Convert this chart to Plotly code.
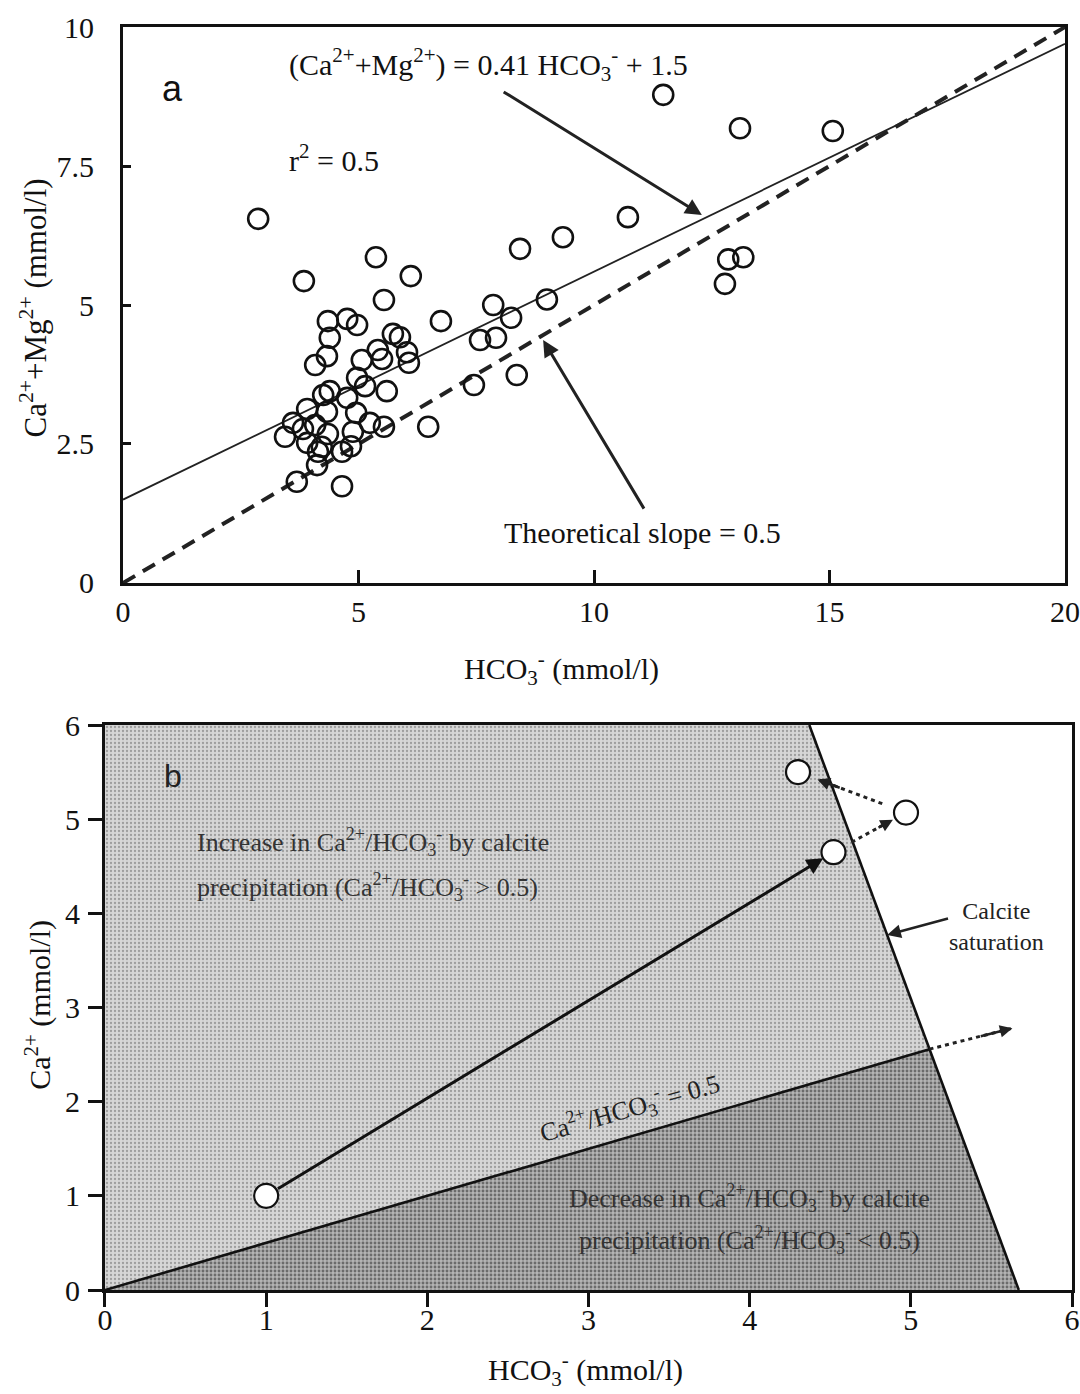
import plotly.graph_objects as go

# ---------------- Panel a: Ca2+ + Mg2+ versus HCO3- ----------------
hco3_a = [2.87, 11.47, 13.10, 15.07, 10.72, 9.34, 8.43, 5.37, 3.84, 6.11,
          5.54, 12.85, 13.17, 12.78, 6.75, 7.86, 9.00, 8.24, 7.58, 7.92,
          8.36, 7.45, 6.48, 4.35, 4.76, 4.97, 4.39, 4.33, 4.08, 5.73,
          5.88, 5.07, 5.41, 5.50, 6.03, 6.07, 5.60, 5.14, 4.97, 4.76,
          4.39, 4.25, 3.91, 4.33, 4.95, 5.24, 5.54, 3.61, 3.44, 3.82,
          4.08, 4.35, 4.88, 3.91, 4.22, 4.14, 4.65, 4.84, 4.12, 3.69,
          4.65]
ca_mg_a = [6.55, 8.78, 8.18, 8.13, 6.58, 6.22, 6.01, 5.86, 5.43, 5.52,
           5.09, 5.82, 5.86, 5.38, 4.71, 5.00, 5.10, 4.77, 4.37, 4.41,
           3.74, 3.56, 2.81, 4.71, 4.75, 4.64, 4.41, 4.08, 3.92, 4.48,
           4.42, 4.01, 4.19, 4.03, 4.15, 3.96, 3.45, 3.54, 3.69, 3.33,
           3.45, 3.38, 3.13, 3.08, 3.06, 2.88, 2.81, 2.88, 2.63, 2.77,
           2.84, 2.68, 2.72, 2.52, 2.45, 2.36, 2.36, 2.46, 2.12, 1.82,
           1.74]
fit_slope, fit_intercept = 0.41, 1.5
theory_slope = 0.5
xa_range = [0, 20]
ya_ticks = [0, 2.5, 5, 7.5, 10]
ya_ticktext = ["0", "2.5", "5", "7.5", "10"]
xa_ticks = [0, 5, 10, 15, 20]

# ---------------- Panel b: Ca2+ versus HCO3- ----------------
calcite_hco3 = [4.37, 5.67]     # calcite saturation boundary
calcite_ca = [6.0, 0.0]
ratio_line = 0.5                # Ca2+/HCO3- = 0.5
start_pt = (1.0, 1.0)
sat_pt = (4.52, 4.65)
over_pt = (4.97, 5.07)
back_pt = (4.30, 5.50)
excess_end = (5.63, 2.78)
xb_ticks = [0, 1, 2, 3, 4, 5, 6]
yb_ticks = [0, 1, 2, 3, 4, 5, 6]

SERIF = "Liberation Serif"
SANS = "Liberation Sans"

fig = go.Figure()

# regression and theoretical lines
fx = [xa_range[0], xa_range[1]]
fig.add_trace(go.Scatter(x=fx, y=[fit_slope * v + fit_intercept for v in fx],
                         mode="lines", line=dict(color="#222", width=1.8),
                         xaxis="x", yaxis="y", hoverinfo="skip"))
fig.add_trace(go.Scatter(x=fx, y=[theory_slope * v for v in fx],
                         mode="lines", line=dict(color="#222", width=4, dash="14px,9px"),
                         xaxis="x", yaxis="y", hoverinfo="skip"))
fig.add_trace(go.Scatter(x=hco3_a, y=ca_mg_a, mode="markers",
                         marker=dict(symbol="circle-open", size=20, color="#111",
                                     line=dict(width=2.6, color="#111")),
                         xaxis="x", yaxis="y", hoverinfo="skip"))

# panel b regions
def calcite_x(ca):
    x0, x1 = calcite_hco3
    y0, y1 = calcite_ca
    return x0 + (ca - y0) * (x1 - x0) / (y1 - y0)

# intersection of calcite boundary and the 0.5 ratio line
x0, x1 = calcite_hco3
y0, y1 = calcite_ca
k = (x1 - x0) / (y1 - y0)
ix = (x0 - k * y0) / (1 - k * ratio_line)
iy = ratio_line * ix

fig.add_trace(go.Scatter(
    x=[0, 0, calcite_hco3[0], ix, 0], y=[0, 6, calcite_ca[0], iy, 0],
    mode="lines", fill="toself", fillcolor="#d2d2d2", line=dict(width=0),
    fillpattern=dict(shape=".", size=4, solidity=0.25, fgcolor="#9c9c9c", bgcolor="#d6d6d6"),
    xaxis="x2", yaxis="y2", hoverinfo="skip"))
fig.add_trace(go.Scatter(
    x=[0, ix, calcite_hco3[1], 0], y=[0, iy, calcite_ca[1], 0],
    mode="lines", fill="toself", fillcolor="#a8a8a8", line=dict(width=0),
    fillpattern=dict(shape=".", size=4, solidity=0.4, fgcolor="#6a6a6a", bgcolor="#b4b4b4"),
    xaxis="x2", yaxis="y2", hoverinfo="skip"))

# boundaries
fig.add_trace(go.Scatter(x=calcite_hco3, y=calcite_ca, mode="lines",
                         line=dict(color="#111", width=2.6),
                         xaxis="x2", yaxis="y2", hoverinfo="skip"))
fig.add_trace(go.Scatter(x=[0, ix], y=[0, iy], mode="lines",
                         line=dict(color="#111", width=2.6),
                         xaxis="x2", yaxis="y2", hoverinfo="skip"))

def shorten(p, q, a, b):
    return (p[0] + a * (q[0] - p[0]), p[1] + a * (q[1] - p[1])), \
           (p[0] + b * (q[0] - p[0]), p[1] + b * (q[1] - p[1]))

# dotted paths
def dotted(p, q):
    fig.add_trace(go.Scatter(x=[p[0], q[0]], y=[p[1], q[1]], mode="lines",
                             line=dict(color="#222", width=3, dash="4px,4px"),
                             xaxis="x2", yaxis="y2", hoverinfo="skip"))

s1, e1 = shorten(sat_pt, over_pt, 0.25, 0.72)
s2, e2 = shorten(over_pt, back_pt, 0.22, 0.80)
dotted(s1, e1)
dotted(s2, e2)
dotted((ix, iy), excess_end)

fig.add_trace(go.Scatter(x=[p[0] for p in (start_pt, sat_pt, over_pt, back_pt)],
                         y=[p[1] for p in (start_pt, sat_pt, over_pt, back_pt)],
                         mode="markers",
                         marker=dict(symbol="circle", size=24, color="white",
                                     line=dict(width=2.2, color="#111")),
                         xaxis="x2", yaxis="y2", hoverinfo="skip"))

ann = []
# panel a text
ann.append(dict(x=3.48, y=9.33, xref="x", yref="y", xanchor="left", yanchor="middle",
                text="(Ca<sup>2+</sup>+Mg<sup>2+</sup>) = 0.41 HCO<sub>3</sub><sup>-</sup> + 1.5",
                showarrow=False, font=dict(family=SERIF, size=30, color="#111")))
ann.append(dict(x=3.48, y=7.64, xref="x", yref="y", xanchor="left", yanchor="middle",
                text="r<sup>2</sup> = 0.5", showarrow=False,
                font=dict(family=SERIF, size=30, color="#111")))
ann.append(dict(x=1.06, y=8.9, xref="x", yref="y", text="a", showarrow=False,
                font=dict(family=SANS, size=36, color="#111")))
ann.append(dict(x=11.04, y=0.9, xref="x", yref="y", text="Theoretical slope = 0.5",
                showarrow=False, font=dict(family=SERIF, size=30, color="#111")))
ann.append(dict(x=12.29, y=6.62, xref="x", yref="y", ax=8.05, ay=8.85, axref="x", ayref="y",
                text="", showarrow=True, arrowhead=2, arrowsize=1.1, arrowwidth=3,
                arrowcolor="#222"))
ann.append(dict(x=8.92, y=4.37, xref="x", yref="y", ax=11.08, ay=1.31, axref="x", ayref="y",
                text="", showarrow=True, arrowhead=2, arrowsize=1.1, arrowwidth=3,
                arrowcolor="#222"))

# panel b text
ann.append(dict(x=0.42, y=5.46, xref="x2", yref="y2", text="b", showarrow=False,
                font=dict(family=SANS, size=32, color="#222")))
region_font = dict(family=SERIF, size=26, color="#333")
ann.append(dict(x=0.56, y=4.76, xref="x2", yref="y2", xanchor="left", yanchor="middle",
                text="Increase in Ca<sup>2+</sup>/HCO<sub>3</sub><sup>-</sup> by calcite",
                showarrow=False, font=region_font))
ann.append(dict(x=0.56, y=4.28, xref="x2", yref="y2", xanchor="left", yanchor="middle",
                text="precipitation (Ca<sup>2+</sup>/HCO<sub>3</sub><sup>-</sup> > 0.5)",
                showarrow=False, font=region_font))
ann.append(dict(x=4.0, y=0.98, xref="x2", yref="y2", xanchor="center", yanchor="middle",
                text="Decrease in Ca<sup>2+</sup>/HCO<sub>3</sub><sup>-</sup> by calcite",
                showarrow=False, font=region_font))
ann.append(dict(x=4.0, y=0.53, xref="x2", yref="y2", xanchor="center", yanchor="middle",
                text="precipitation (Ca<sup>2+</sup>/HCO<sub>3</sub><sup>-</sup> < 0.5)",
                showarrow=False, font=region_font))
ann.append(dict(x=3.26, y=1.93, xref="x2", yref="y2", textangle=-16,
                text="Ca<sup>2+</sup>/HCO<sub>3</sub><sup>-</sup> = 0.5",
                showarrow=False, font=dict(family=SERIF, size=26, color="#222")))
ann.append(dict(x=5.53, y=3.86, xref="x2", yref="y2", align="center",
                text="Calcite<br>saturation", showarrow=False,
                font=dict(family=SERIF, size=24, color="#222")))
ann.append(dict(x=calcite_x(3.77), y=3.77, xref="x2", yref="y2", ax=5.24, ay=3.95,
                axref="x2", ayref="y2", text="", showarrow=True, arrowhead=2,
                arrowsize=1.1, arrowwidth=2.5, arrowcolor="#222"))
# solid path from the start point to saturation
ann.append(dict(x=sat_pt[0], y=sat_pt[1], xref="x2", yref="y2", ax=start_pt[0], ay=start_pt[1],
                axref="x2", ayref="y2", text="", showarrow=True, arrowhead=2,
                arrowsize=1.1, arrowwidth=3, arrowcolor="#111", standoff=12, startstandoff=12))
# heads of the dotted paths
for p, q in ((sat_pt, over_pt), (over_pt, back_pt), ((ix, iy), excess_end)):
    tail, head = shorten(p, q, 0.6, 0.82 if q != excess_end else 1.0)
    ann.append(dict(x=head[0], y=head[1], xref="x2", yref="y2", ax=tail[0], ay=tail[1],
                    axref="x2", ayref="y2", text="", showarrow=True, arrowhead=2,
                    arrowsize=1.0, arrowwidth=2.5, arrowcolor="#222"))

# axis titles
title_font = dict(family=SERIF, size=30, color="#111")
ann.append(dict(x=0.52, y=1 - 668 / 1394, xref="paper", yref="paper",
                xanchor="center", yanchor="middle",
                text="HCO<sub>3</sub><sup>-</sup> (mmol/l)", showarrow=False, font=title_font))
ann.append(dict(x=0.031, y=1 - 308 / 1394, xref="paper", yref="paper", textangle=-90,
                xanchor="center", yanchor="middle",
                text="Ca<sup>2+</sup>+Mg<sup>2+</sup> (mmol/l)", showarrow=False,
                font=dict(family=SERIF, size=31, color="#111")))
ann.append(dict(x=0.5417, y=1 - 1369 / 1394, xref="paper", yref="paper",
                xanchor="center", yanchor="middle",
                text="HCO<sub>3</sub><sup>-</sup> (mmol/l)", showarrow=False, font=title_font))
ann.append(dict(x=0.035, y=1 - 1005 / 1394, xref="paper", yref="paper", textangle=-90,
                xanchor="center", yanchor="middle",
                text="Ca<sup>2+</sup> (mmol/l)", showarrow=False, font=title_font))

tickfont = dict(family=SERIF, size=30, color="#111")
common = dict(showgrid=False, zeroline=False, showline=True, linecolor="#111",
              linewidth=3, mirror=True, tickcolor="#111", tickwidth=2.5, tickfont=tickfont,
              automargin=False)

fig.update_layout(
    template="none",
    width=1080, height=1394,
    margin=dict(l=0, r=0, t=0, b=0, pad=0),
    paper_bgcolor="white", plot_bgcolor="white",
    showlegend=False,
    annotations=ann,
    xaxis=dict(domain=[0.1139, 0.9861], range=xa_range, anchor="y",
               tickvals=xa_ticks, ticks="inside", ticklen=13,
               ticklabelstandoff=0, **common),
    yaxis=dict(domain=[0.5818, 0.9806], range=[0, 10], anchor="x",
               tickvals=ya_ticks, ticktext=ya_ticktext, ticks="inside", ticklen=8,
               ticklabelstandoff=20, **common),
    xaxis2=dict(domain=[0.0972, 0.9926], range=[0, 6], anchor="y2",
                tickvals=xb_ticks, ticks="outside", ticklen=14,
                ticklabelstandoff=-13, **common),
    yaxis2=dict(domain=[0.0746, 0.4799], range=[0, 6], anchor="x2",
                tickvals=yb_ticks, ticks="outside", ticklen=14,
                ticklabelstandoff=2, **common),
)

fig.write_html("out.html")
